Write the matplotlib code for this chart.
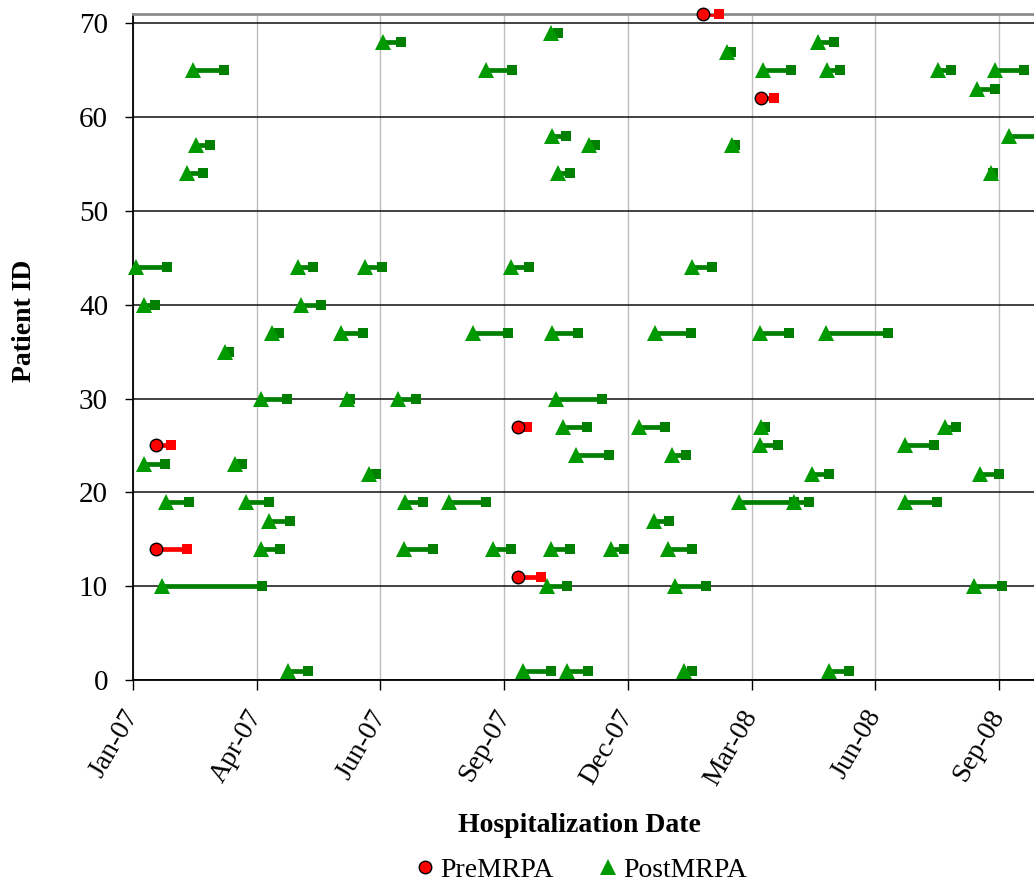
import numpy
import matplotlib
matplotlib.use("Agg")
import matplotlib.pyplot
import matplotlib.dates
from matplotlib.lines import Line2D

# day offsets counted from 1 Jan 2007
BASE_DATE = numpy.datetime64("2007-01-01")

pre_patient = [71, 62, 27, 25, 14, 11]
pre_admit_day = [415, 457, 280, 17, 17, 280]
pre_discharge_day = [426, 466, 287, 28, 39, 297]

post_patient = [
    69,
    68, 68,
    67,
    65, 65, 65, 65, 65, 65,
    63,
    58, 58,
    57, 57, 57,
    54, 54, 54,
    44, 44, 44, 44, 44,
    40, 40,
    37, 37, 37, 37, 37, 37, 37,
    35,
    30, 30, 30, 30,
    27, 27, 27, 27,
    25, 25,
    24, 24,
    23, 23,
    22, 22, 22,
    19, 19, 19, 19, 19, 19, 19,
    17, 17,
    14, 14, 14, 14, 14, 14,
    10, 10, 10, 10,
    1, 1, 1, 1, 1,
]
post_admit_day = [
    304,
    182, 498,
    432,
    44, 257, 458, 505, 586, 627,
    614,
    305, 637,
    46, 332, 436,
    39, 309, 624,
    2, 120, 169, 275, 407,
    8, 122,
    101, 151, 247, 305, 380, 456, 504,
    67,
    93, 156, 193, 308,
    313, 368, 457, 591,
    456, 562,
    322, 392,
    8, 74,
    172, 494, 616,
    24, 82, 198, 230, 441, 481, 562,
    99, 379,
    93, 197, 262, 304, 348, 389,
    21, 301, 394, 612,
    113, 284, 316, 401, 506,
]
post_discharge_day = [
    309,
    195, 510,
    435,
    66, 276, 479, 514, 595, 648,
    627,
    315, 665,
    56, 336, 438,
    51, 318, 626,
    25, 131, 181, 288, 421,
    16, 137,
    106, 167, 273, 324, 406, 477, 549,
    70,
    112, 158, 206, 341,
    330, 387, 460, 599,
    469, 583,
    346, 402,
    23, 79,
    177, 506, 630,
    41, 99, 211, 257, 481, 492, 585,
    114, 390,
    107, 218, 275, 318, 357, 407,
    94, 316, 417, 632,
    127, 304, 331, 407, 521,
]

tick_days = [0, 90, 180, 270, 360, 450, 540, 630]
y_ticks = [0, 10, 20, 30, 40, 50, 60, 70]


def to_dates(days) -> numpy.ndarray:
    return BASE_DATE + numpy.array(days).astype("timedelta64[D]")


def plot_stays(ax, patients, admit, discharge, start_marker, start_color, line_color, start_kw) -> None:
    starts = to_dates(admit)
    ends = to_dates(discharge)
    for pid, start, end in zip(patients, starts, ends):
        ax.plot([start, end], [pid, pid], color=line_color, lw=3.4,
                solid_capstyle="butt", zorder=3)
    ax.plot(ends, patients, linestyle="none", marker="s", ms=6.5,
            color=line_color, markeredgewidth=0, zorder=4, clip_on=False)
    ax.plot(starts, patients, linestyle="none", marker=start_marker,
            color=start_color, zorder=5, clip_on=False, **start_kw)


matplotlib.pyplot.rcParams["font.family"] = ["Liberation Serif", "DejaVu Serif"]

fig = matplotlib.pyplot.figure(figsize=(10.34, 8.88), dpi=100)
ax = fig.add_axes([133 / 1034, 1 - 680 / 888, 901 / 1034, 666 / 888])

red_kw = dict(ms=9, markeredgecolor="black", markeredgewidth=1)
green_kw = dict(ms=12, markeredgewidth=0)
plot_stays(ax, post_patient, post_admit_day, post_discharge_day,
           "^", "#009A00", "#007F00", green_kw)
plot_stays(ax, pre_patient, pre_admit_day, pre_discharge_day,
           "o", "#FF0000", "#FF0000", red_kw)

ax.set_ylim(0, 71)
ax.set_xlim(to_dates([0])[0], BASE_DATE + numpy.timedelta64(655, "D") + numpy.timedelta64(12, "h"))
ax.set_yticks(y_ticks)
ax.set_xticks(to_dates(tick_days))
ax.xaxis.set_major_formatter(matplotlib.dates.DateFormatter("%b-%y"))

ax.set_axisbelow(True)
ax.yaxis.grid(True, color="#101010", lw=1.1)
ax.xaxis.grid(True, color="#BDBDBD", lw=1)
ax.spines["right"].set_visible(False)
ax.spines["top"].set_color("#8C8C8C")
ax.spines["top"].set_linewidth(2)
ax.spines["left"].set_linewidth(1.3)
ax.spines["bottom"].set_linewidth(1.3)

ax.tick_params(axis="y", labelsize=21, length=6, width=1, pad=12)
ax.tick_params(axis="x", labelsize=20, length=7, width=1, pad=16)
matplotlib.pyplot.setp(ax.get_xticklabels(), rotation=60, ha="right", va="center",
                       rotation_mode="anchor")

ax.set_xlabel("Hospitalization Date", fontsize=20, fontweight="bold", va="center")
ax.xaxis.set_label_coords(0.496, -0.218)
ax.set_ylabel("Patient ID", fontsize=20, fontweight="bold", va="center")
ax.yaxis.set_label_coords(-0.12, 0.54)

handles = [
    Line2D([], [], linestyle="none", marker="o", color="#FF0000", **red_kw),
    Line2D([], [], linestyle="none", marker="^", color="#009A00", **green_kw),
]
fig.legend(handles, ["PreMRPA", "PostMRPA"], loc="center", bbox_to_anchor=(0.562, 0.02),
           ncol=2, frameon=False, fontsize=20, handlelength=0.7, handletextpad=0.2,
           columnspacing=1.6, borderaxespad=0)

fig.savefig("out.png", dpi=100)
